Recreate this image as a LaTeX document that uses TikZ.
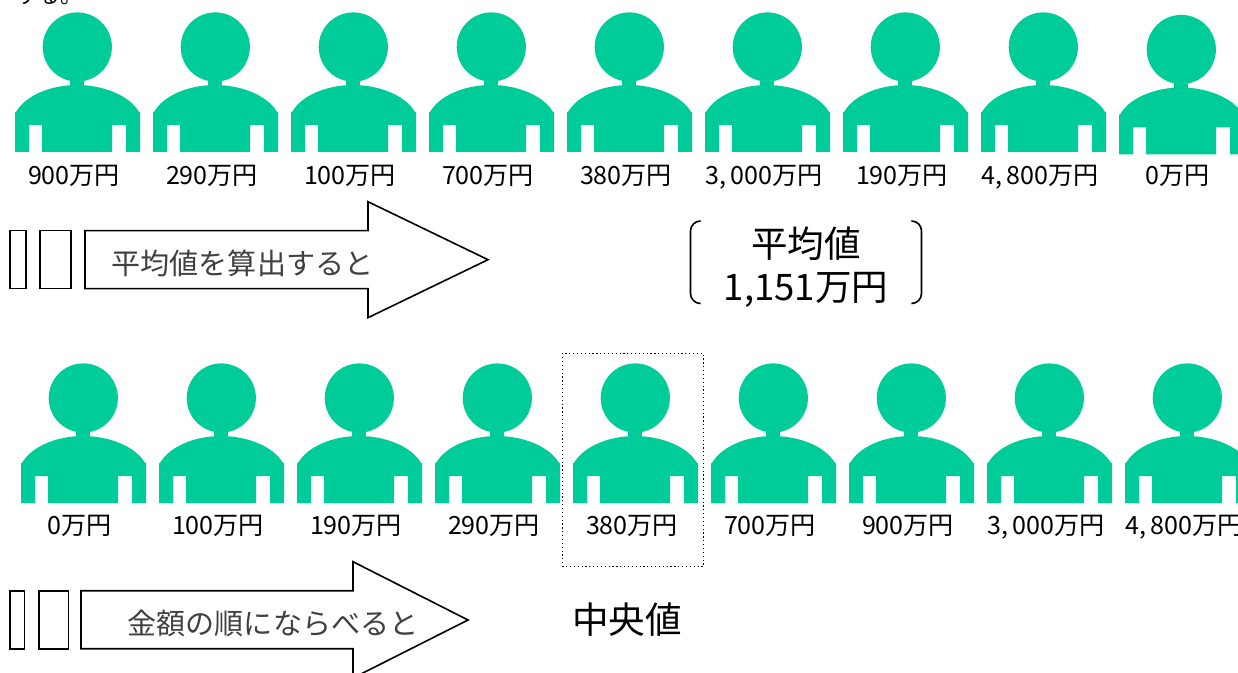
\documentclass[tikz,border=0pt]{standalone}
\usepackage{fontspec}
\setmainfont{Noto Sans CJK JP}
\definecolor{personcol}{RGB}{0,204,153}
\newcommand{\cmk}{,\kern3.2pt}
\tikzset{
  persona/.pic={
    \fill[personcol] (77.3,47) circle (34.6);
    \fill[personcol] (70,75) rectangle (84,90);
    \fill[personcol] (15,152) -- (15,112) -- (16,112)
      .. controls (25,96) and (50,85) .. (77,85)
      .. controls (104,85) and (130,96) .. (139,112)
      -- (140,112) -- (140,152) -- (126,152) -- (126,125) -- (112,125) -- (112,152)
      -- (42,152) -- (42,125) -- (29,125) -- (29,152) -- cycle;
  },
  amount/.style={anchor=base,inner sep=0pt,font=\fontsize{18.8}{19}\selectfont,text=black},
  bigtext/.style={anchor=base,inner sep=0pt,font=\fontsize{27.4}{28}\selectfont,text=black},
  arrowtext/.style={anchor=base,inner sep=0pt,font=\fontsize{21.8}{22}\selectfont,text=black!75},
  outline/.style={draw=black,line width=1.2pt,fill=white,line join=miter},
  bracket/.style={draw=black,line width=1.2pt,rounded corners=7.5pt},
}
\begin{document}
\begin{tikzpicture}[x=0.75pt,y=-0.75pt]
\useasboundingbox (0,0) rectangle (1238,673);
\node[anchor=base west,inner sep=0pt,font=\fontsize{16.5}{17}\selectfont] (frag) at (16,4) {する。};
% first row
\foreach \n/\px/\py in {1/0/0,2/138/0,3/276/0,4/414/0,5/552/0,6/690/0,7/828/0,8/966/0,9/1104/2.5}
  \pic (pa\n) at (\px,\py) {persona};
\foreach \n/\cx/\t in {1/74/900万円,2/212/290万円,3/350/100万円,4/488/700万円,5/626/380万円,6/764/{3\cmk 000万円},7/902/190万円,8/1040/{4\cmk 800万円},9/1178/0万円}
  \node[amount] (ta\n) at (\cx,184.5) {\t};
% first arrow
\draw[outline] (10,230.7) rectangle (25.7,288.7);
\draw[outline] (40,230.7) rectangle (70.7,288.7);
\draw[outline] (85,230.7) -- (368,230.7) -- (368,201.7) -- (488,259.7) -- (368,317.7) -- (368,288.7) -- (85,288.7) -- cycle;
\node[arrowtext] (avg) at (242.5,275) {平均値を算出すると};
% average
\node[bigtext] (avga) at (806,258) {平均値};
\node[bigtext] (avgb) at (806,301) {1,151万円};
\draw[bracket] (700,221) -- (690.5,221) -- (690.5,303.5) -- (700,303.5);
\draw[bracket] (912,221) -- (921.5,221) -- (921.5,303.5) -- (912,303.5);
% second row
\foreach \n/\px in {1/6,2/144,3/282,4/420,5/558,6/696,7/834,8/972,9/1110}
  \pic (pb\n) at (\px,351) {persona};
\foreach \n/\cx/\t in {1/80/0万円,2/218/100万円,3/356/190万円,4/494/290万円,5/632/380万円,6/770/700万円,7/908/900万円,8/1046/{3\cmk 000万円},9/1184/{4\cmk 800万円}}
  \node[amount] (tb\n) at (\cx,534.5) {\t};
\draw[black,line width=0.9pt,dotted] (562.7,353.3) rectangle (703.3,566.5);
% second arrow
\draw[outline] (10,590.7) rectangle (24.5,648.7);
\draw[outline] (39,590.7) rectangle (68.3,648.7);
\draw[outline] (81,590.7) -- (353,590.7) -- (353,561.7) -- (468,620) -- (353,678) -- (353,648.7) -- (81,648.7) -- cycle;
\node[arrowtext] (sort) at (273,634) {金額の順にならべると};
\node[bigtext] (med) at (627,633) {中央値};
\end{tikzpicture}
\end{document}
